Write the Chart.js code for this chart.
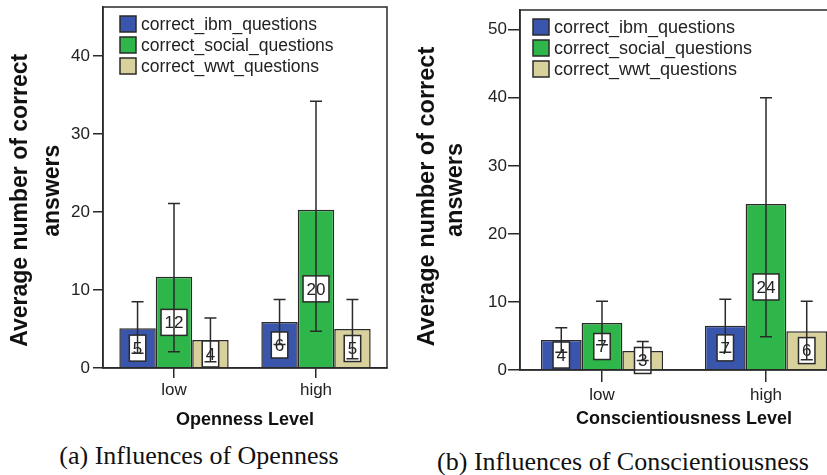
<!DOCTYPE html>
<html>
<head>
<meta charset="utf-8">
<script src="https://cdn.jsdelivr.net/npm/chart.js@4"></script>
<style>
html, body { margin: 0; padding: 0; background: #fff; overflow: hidden; }
#page { position: relative; width: 827px; height: 475px; overflow: hidden; }
canvas { position: absolute; top: 0; }
#chartA { left: 0; }
#chartB { left: 400px; }
.caption { position: absolute; font-family: "Liberation Serif", "Times New Roman", serif; font-size: 26px; line-height: 26px; text-align: center; color: #111; white-space: nowrap; }
</style>
</head>
<body>
<div id="page">
  <canvas id="chartA" width="400" height="435"></canvas>
  <canvas id="chartB" width="460" height="435"></canvas>
  <div class="caption" style="left:0;top:443px;width:398px">(a) Influences of Openness</div>
  <div class="caption" style="left:420px;top:449px;width:406px">(b) Influences of Conscientiousness</div>
</div>
<script>
// categories and series
const levels = ['low', 'high'];
const seriesNames = ['correct_ibm_questions', 'correct_social_questions', 'correct_wwt_questions'];
const seriesColors = ['#3a56ac', '#2fb64a', '#d8d19c'];

// (a) Openness: means and error bar ends
const openIbm = [5.1, 5.9];
const openSocial = [11.7, 20.3];
const openWwt = [3.6, 5.0];
const openIbmLow = [1.9, 3.0];
const openIbmHigh = [8.5, 8.8];
const openSocialLow = [2.1, 4.7];
const openSocialHigh = [21.1, 34.2];
const openWwtLow = [0.8, 1.2];
const openWwtHigh = [6.4, 8.8];
const openTicks = [0, 10, 20, 30, 40];

// (b) Conscientiousness: means and error bar ends
const conscIbm = [4.4, 6.5];
const conscSocial = [6.9, 24.4];
const conscWwt = [2.8, 5.7];
const conscIbmLow = [2.6, 2.6];
const conscIbmHigh = [6.2, 10.4];
const conscSocialLow = [3.7, 4.9];
const conscSocialHigh = [10.1, 40.0];
const conscWwtLow = [1.4, 1.5];
const conscWwtHigh = [4.2, 10.1];
const conscTicks = [0, 10, 20, 30, 40, 50];

Chart.defaults.font.family = '"Liberation Sans", Arial, sans-serif';
Chart.defaults.color = '#222';

const INK = '#2a2a2a';

// value boxes, error bars, frame and in-plot legend
const spssDecor = {
  id: 'spssDecor',
  afterDatasetsDraw(chart) {
    const ctx = chart.ctx;
    const yScale = chart.scales.y;
    ctx.save();
    ctx.font = '17px "Liberation Sans", Arial, sans-serif';
    ctx.textAlign = 'center';
    ctx.textBaseline = 'middle';
    chart.data.datasets.forEach((ds, i) => {
      chart.getDatasetMeta(i).data.forEach((bar, j) => {
        const v = ds.data[j];
        const txt = String(Math.round(v));
        const w = ctx.measureText(txt).width + 7;
        const h = 26;
        const cy = yScale.getPixelForValue(v / 2);
        ctx.fillStyle = '#fff';
        ctx.fillRect(bar.x - w / 2, cy - h / 2, w, h);
        ctx.lineWidth = 1.5;
        ctx.strokeStyle = INK;
        ctx.strokeRect(bar.x - w / 2, cy - h / 2, w, h);
        ctx.fillStyle = '#222';
        ctx.fillText(txt, bar.x, cy + 1);
      });
    });
    // error bars on top
    ctx.strokeStyle = INK;
    ctx.lineWidth = 1.5;
    chart.data.datasets.forEach((ds, i) => {
      chart.getDatasetMeta(i).data.forEach((bar, j) => {
        const top = yScale.getPixelForValue(ds.errHigh[j]);
        const bot = yScale.getPixelForValue(ds.errLow[j]);
        ctx.beginPath();
        ctx.moveTo(bar.x, top); ctx.lineTo(bar.x, bot);
        ctx.moveTo(bar.x - 6, top); ctx.lineTo(bar.x + 6, top);
        ctx.moveTo(bar.x - 6, bot); ctx.lineTo(bar.x + 6, bot);
        ctx.stroke();
      });
    });
    ctx.restore();
  },
  afterDraw(chart, args, opts) {
    const ctx = chart.ctx;
    const a = chart.chartArea;
    ctx.save();
    ctx.strokeStyle = INK;
    ctx.lineWidth = 1.5;
    ctx.strokeRect(a.left, a.top, a.right - a.left, a.bottom - a.top);
    // legend
    ctx.font = opts.legendFont + 'px "Liberation Sans", Arial, sans-serif';
    ctx.textAlign = 'left';
    ctx.textBaseline = 'middle';
    chart.data.datasets.forEach((ds, i) => {
      const x = a.left + opts.legendX;
      const y = a.top + opts.legendY + i * opts.legendGap;
      ctx.fillStyle = ds.backgroundColor;
      ctx.fillRect(x, y - 8, 16, 16);
      ctx.lineWidth = 1.5;
      ctx.strokeStyle = INK;
      ctx.strokeRect(x, y - 8, 16, 16);
      ctx.fillStyle = '#222';
      ctx.fillText(ds.label, x + 21, y + 1);
    });
    ctx.restore();
  }
};

function makeChart(id, means, lows, highs, ticks, cfg) {
  return new Chart(document.getElementById(id), {
    type: 'bar',
    data: {
      labels: levels,
      datasets: seriesNames.map((name, i) => ({
        label: name,
        data: means[i],
        errLow: lows[i],
        errHigh: highs[i],
        backgroundColor: seriesColors[i],
        borderColor: INK,
        borderWidth: 1.5,
        categoryPercentage: cfg.catPct,
        barPercentage: 1.0
      }))
    },
    options: {
      responsive: false,
      animation: false,
      layout: { padding: cfg.padding },
      plugins: {
        legend: { display: false },
        tooltip: { enabled: false },
        spssDecor: cfg.legend
      },
      scales: {
        x: {
          grid: { display: true, drawOnChartArea: false, offset: false, tickLength: cfg.xTick, color: INK, lineWidth: 1.5 },
          border: { display: true, color: INK, width: 1.5 },
          ticks: { font: { size: 17 }, color: '#222', padding: cfg.xTickPad },
          title: { display: true, text: cfg.xTitle, font: { size: 18, weight: 'bold' }, color: '#111', padding: { top: 0, bottom: cfg.xTitlePad } },
          afterFit: s => { s.height = cfg.xHeight; s.paddingLeft = 0; s.paddingRight = 0; }
        },
        y: {
          min: 0,
          max: cfg.yMax,
          afterBuildTicks: s => { s.ticks = ticks.map(v => ({ value: v })); },
          grid: { display: true, drawOnChartArea: false, tickLength: cfg.yTick, color: INK, lineWidth: 1.5 },
          border: { display: true, color: INK, width: 1.5 },
          ticks: { font: { size: 17 }, color: '#222', padding: cfg.yTickPad },
          // trailing spaces nudge each centred line down the axis like SPSS does
          title: { display: true, text: cfg.yTitle, font: { size: cfg.yTitleSize, weight: 'bold', lineHeight: cfg.yTitleLH }, color: '#111', padding: { top: cfg.yTitlePad, bottom: 0 } },
          afterFit: s => { s.width = cfg.yWidth; s.paddingTop = 0; s.paddingBottom = 0; }
        }
      }
    },
    plugins: [spssDecor]
  });
}

makeChart('chartA',
  [openIbm, openSocial, openWwt],
  [openIbmLow, openSocialLow, openWwtLow],
  [openIbmHigh, openSocialHigh, openWwtHigh],
  openTicks,
  { padding: { left: 0, right: 13, top: 7, bottom: 0 }, yWidth: 103, xHeight: 67, yMax: 46.3,
    catPct: 0.77, xTick: 10, yTick: 10, yTickPad: 3, xTickPad: 2, xTitle: 'Openness Level', xTitlePad: 4,
    yTitle: ['Average number of correct    ', 'answers '], yTitleSize: 23,
    yTitleLH: 1.39, yTitlePad: 5, legend: { legendX: 17, legendY: 17, legendGap: 21, legendFont: 17.5 } });

makeChart('chartB',
  [conscIbm, conscSocial, conscWwt],
  [conscIbmLow, conscSocialLow, conscWwtLow],
  [conscIbmHigh, conscSocialHigh, conscWwtHigh],
  conscTicks,
  { padding: { left: 0, right: 12, top: 10, bottom: 0 }, yWidth: 120, xHeight: 65, yMax: 52.9,
    catPct: 0.745, xTick: 12, yTick: 12, yTickPad: 1, xTickPad: 3, xTitle: 'Conscientiousness Level', xTitlePad: 5,
    yTitle: ['Average number of correct  ', 'answers'], yTitleSize: 23.5,
    yTitleLH: 1.22, yTitlePad: 13, legend: { legendX: 13, legendY: 17, legendGap: 21, legendFont: 18 } });
</script>
</body>
</html>
